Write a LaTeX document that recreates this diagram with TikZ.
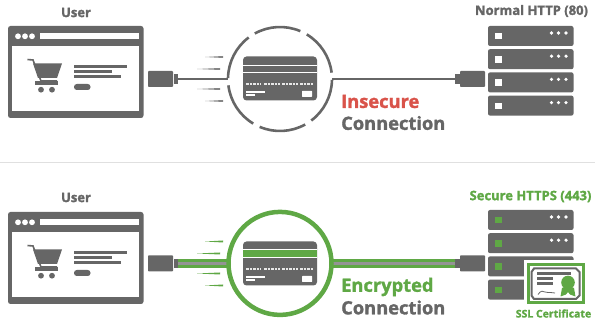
\documentclass[tikz,border=0pt]{standalone}
\usepackage{fontspec}
\setmainfont{Open Sans}[BoldFeatures={FakeBold=1.5}]
\definecolor{icongray}{HTML}{666666}
\definecolor{okgreen}{HTML}{5FA845}
\definecolor{badred}{HTML}{D9534A}
\tikzset{
    plug/.style={fill=icongray,rounded corners=0.8,minimum width=25,minimum height=16,inner sep=0},
    neck/.style={fill=icongray,minimum width=4.5,minimum height=9.5,inner sep=0},
    ring/.style={circle,minimum size=104,inner sep=0},
    heading/.style={font=\bfseries\fontsize{13}{14}\selectfont,text=icongray,inner sep=0},
    bigtext/.style={font=\bfseries\fontsize{18.3}{20}\selectfont,anchor=west,inner sep=0},
}
% browser window with shopping cart
\newcommand{\browserpic}[1]{
    \begin{scope}[shift={(0,#1)}]
        \fill[icongray,rounded corners=2.5] (8,26) rectangle (143.5,118);
        \fill[white] (12,46) rectangle (139,111);
        \fill[white] (40,33) rectangle (139,39.5);
        \foreach \px in {18,25,32}
            \fill[white] (\px,36.3) circle (2.9);
        \draw[icongray,line width=1.6] (27.5,59.5) -- (33,60) -- (41,81) -- (57,81);
        \fill[icongray] (33,63.5) -- (62,63.5) -- (57,78) -- (38,78) -- cycle;
        \fill[icongray] (35,81.5) rectangle (58,85);
        \foreach \px in {41,52}
            \fill[icongray] (\px,89.7) circle (2.9);
        \fill[icongray] (74,65.5) rectangle (126.5,68);
        \fill[icongray] (74,70.5) rectangle (112,73);
        \fill[icongray] (74,75.3) rectangle (120.5,78);
        \fill[icongray,rounded corners=2.8] (74,84) rectangle (90.5,90);
    \end{scope}
}
% payment card, the stripes are set from outside
\newcommand{\bankcard}[1]{
    \begin{scope}[shift={(0,#1)}]
        \fill[icongray,rounded corners=3.5] (243,56.5) rectangle (317,100.5);
        \foreach \px/\qx in {246/261,264/280,282/298,300/314}
            \draw[white!85!icongray,line width=1.6,dash pattern=on 2.6 off 1] (\px,84) -- (\qx,84);
        \fill[white] (246,91.3) rectangle (265,92.8);
        \fill[white] (246,94.3) rectangle (255,95.8);
        \fill[white,rounded corners=0.5] (302,91) rectangle (312,97);
    \end{scope}
}
\newcommand{\rackpic}[2]{
    \begin{scope}[shift={(0,#1)}]
        \foreach \row in {0,1,2,3} {
            \begin{scope}[shift={(0,23.2*\row)}]
                \fill[icongray,rounded corners=2] (488,26) rectangle (573.5,46);
                \fill[#2] (495,33) rectangle (502,39.5);
                \foreach \px in {551.5,558.5,566}
                    \fill[white] (\px,33) circle (1.8);
            \end{scope}
        }
    \end{scope}
}
\newcommand{\speedlines}[2]{
    \foreach \px/\qx/\py in {205/223/57,197/220/69,197/220/89,205/223/101}
        \fill[#2] (\px,\py+#1) -- (\qx,\py+#1-1) -- (\qx,\py+#1+1) -- cycle;
}
\begin{document}
\begin{tikzpicture}[x=1pt,y=-1pt]
    \useasboundingbox (0,0) rectangle (595,320);

    \node[heading] (userA) at (76,12.5) {User};
    \node[heading] (httpA) at (531.5,11) {Normal HTTP (80)};
    \browserpic{0}
    \rackpic{0}{white}
    \speedlines{0}{icongray!80}
    \node[plug] (plugA) at (160.5,79) {};
    \node[neck] (neckA) at (176,79) {};
    \node[ring] (ringA) at (280,79) {};
    \node[neck] (neckB) at (457.5,79) {};
    \node[plug] (plugB) at (472.5,79) {};
    \draw[icongray,line width=1.6] (neckA) -- (ringA);
    \draw[icongray,line width=1.6] (ringA) -- (neckB);
    \foreach \a in {1,61,...,301}
        \draw[icongray,line width=2.6] ([shift={(\a:52)}]ringA.center) arc[start angle=\a,delta angle=52,radius=52];
    \bankcard{0}
    \fill[white] (243,64.8) rectangle (317,66.2);
    \fill[white] (243,71.6) rectangle (317,73);
    \node[bigtext,text=badred] (insecureA) at (341,101.5) {Insecure};
    \node[bigtext,text=icongray] (connA) at (341,123) {Connection};

    \coordinate (ruleL) at (0,162);
    \coordinate (ruleR) at (595,162);
    \draw[black!12,line width=0.8] (ruleL) -- (ruleR);

    \node[heading] (userB) at (76,197.5) {User};
    \node[heading,text=okgreen] (httpB) at (530.5,196.5) {Secure HTTPS (443)};
    \browserpic{186}
    \rackpic{184}{okgreen}
    \speedlines{184.5}{okgreen}
    \node[plug] (plugC) at (160.5,263.4) {};
    \node[neck] (neckC) at (176,263.4) {};
    \node[ring] (ringB) at (280,263.4) {};
    \node[neck] (neckD) at (457.5,263.4) {};
    \node[plug] (plugD) at (472.5,263.4) {};
    \draw[okgreen,line width=8.5] (neckC) -- (ringB);
    \draw[icongray!70,line width=3.6] (neckC) -- (ringB);
    \draw[okgreen,line width=8.5] (ringB) -- (neckD);
    \draw[icongray!70,line width=3.6] (ringB) -- (neckD);
    \draw[okgreen,line width=4.5,fill=white] (ringB.center) circle (51.5);
    \bankcard{185}
    \fill[white] (243,248.6) rectangle (317,258);
    \fill[okgreen] (243,250) rectangle (317,256.6);
    \node[bigtext,text=okgreen] (encryptedB) at (341,287) {Encrypted};
    \node[bigtext,text=icongray] (connB) at (341,307.5) {Connection};

    % certificate over the rack
    \fill[white] (524,260.5) rectangle (587,307);
    \draw[okgreen,line width=3,fill=white] (528,264.5) rectangle (583,303);
    \draw[icongray,line width=2] (534,268.5) -- (576,268.5) -- (579.5,272) -- (579.5,295.5) -- (576,299) -- (534,299) -- (531.5,295.5) -- (531.5,272) -- cycle;
    \fill[icongray] (537,272.5) rectangle (571,275);
    \fill[icongray] (537,277.5) rectangle (553,280);
    \fill[icongray] (537,282.5) rectangle (553,285);
    \draw[icongray,line width=0.8] (538,294.5) .. controls (541,290) and (543,291) .. (545,292) .. controls (549,293) and (552,292) .. (555,293);
    \fill[okgreen] (562,288) -- (568,286) -- (574,288) -- (575.5,296.5) -- (570,294.5) -- (568,292) -- (566,294.5) -- (560.5,296.5) -- cycle;
    \fill[okgreen] (568,282.5) circle (6.8);
    \node[heading,text=okgreen,font=\bfseries\fontsize{10.5}{12}\selectfont] (sslB) at (553.5,313.5) {SSL Certificate};
\end{tikzpicture}
\end{document}
